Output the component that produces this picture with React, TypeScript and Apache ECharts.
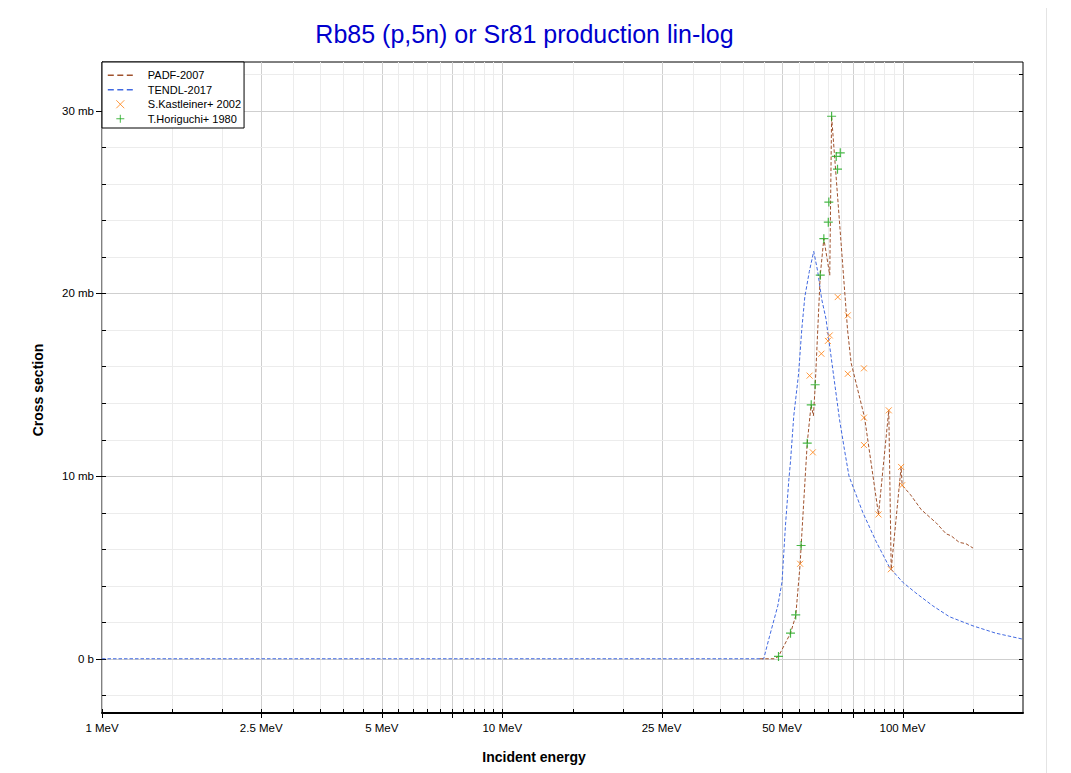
import React, { useEffect, useRef } from 'react';
import * as echarts from 'echarts';

// ---- Data (energy in MeV, cross section in mb) ----
const padfEnergy = [44, 47.9, 49.0, 52.5, 54.1, 55.5, 55.8, 57.8, 59.1, 59.9, 60.5, 62.3, 63.6, 65.8, 66.5, 72.9, 74.4, 80.4, 87.1, 92.4, 93.7, 99.2, 99.8, 104.7, 111.4, 121.5, 128.5, 132.3, 138.6, 144, 150];
const padfXs = [0, 0, 0.13, 1.4, 2.35, 5.2, 6.15, 11.8, 13.9, 13.3, 14.9, 21.0, 23.0, 21.0, 29.7, 18.0, 16.2, 13.2, 7.9, 13.6, 4.9, 10.5, 9.5, 8.98, 8.16, 7.43, 6.84, 6.73, 6.37, 6.3, 6.06];

const tendlEnergy = [1, 45, 46.5, 48.8, 50, 51, 52, 52.5, 53.5, 55, 56, 57, 58.5, 60, 61.4, 62.8, 64.4, 67, 69.6, 71.6, 73.5, 79.6, 86, 92.8, 100, 108, 119, 131, 150, 171, 200];
const tendlXs = [0, 0, 1.2, 2.9, 4.2, 7.3, 9.8, 10.8, 13.3, 15.6, 18.0, 19.8, 21.2, 22.3, 21.2, 19.7, 18.6, 15.8, 13.1, 11.45, 10.0, 8.0, 6.4, 5.0, 4.2, 3.6, 2.9, 2.3, 1.8, 1.4, 1.07];

const kastEnergy = [55.5, 58.6, 59.7, 62.7, 65.1, 65.8, 68.9, 73.0, 73.0, 80.1, 80.1, 80.1, 87.1, 92.4, 93.5, 99.2, 99.8];
const kastXs = [5.2, 15.5, 11.3, 16.7, 17.4, 17.7, 19.8, 18.8, 15.6, 15.9, 13.2, 11.7, 7.9, 13.6, 4.9, 10.5, 9.5];

const horiEnergy = [49.0, 52.5, 54.1, 55.8, 57.8, 59.15, 60.5, 62.3, 63.6, 65.25, 65.45, 66.5, 68.3, 68.8, 69.9];
const horiXs = [0.13, 1.4, 2.4, 6.2, 11.8, 13.9, 15.0, 21.0, 23.0, 23.9, 25.0, 29.7, 27.5, 26.8, 27.7];

// ---- Axis ticks ----
const xMajorTicks = [1, 2.5, 5, 7.5, 10, 25, 50, 75, 100];
const xMinorTicks = [1.5, 2, 3, 3.5, 4, 4.5, 5.5, 6, 6.5, 7, 8, 8.5, 9, 9.5, 15, 20, 30, 35, 40, 45, 55, 60, 65, 70, 80, 85, 90, 95, 150];
const xLabelValues = [1, 2.5, 5, 10, 25, 50, 100];
const xLabelTexts = ['1 MeV', '2.5 MeV', '5 MeV', '10 MeV', '25 MeV', '50 MeV', '100 MeV'];
const yMajorTicks = [0, 10, 20, 30];
const yMinorTicks = [-2, 2, 4, 6, 8, 12, 14, 16, 18, 22, 24, 26, 28, 32];
const yLabelTexts = ['0 b', '10 mb', '20 mb', '30 mb'];

const X_MIN = 1;
const X_MAX = 200;
const Y_MIN = -2.97;
const Y_MAX = 32.67;

const FONT = '"Liberation Sans", Arial, sans-serif';
const PADF_COLOR = '#a0522d';
const TENDL_COLOR = '#4169e1';
const KAST_COLOR = '#ff7f0e';
const HORI_COLOR = '#1ca81c';

const zip = (a: number[], b: number[]) => a.map((v, i) => [v, b[i]]);

function xGridSeries(values: number[], major: boolean) {
  return {
    type: 'custom',
    silent: true,
    clip: false,
    z: 1,
    data: values.map((v) => [v, 0]),
    encode: { x: 0, y: 1 },
    renderItem: (params: any, api: any) => {
      const cs = params.coordSys;
      const p = api.coord([api.value(0), 0]);
      const x = Math.round(p[0]) + 0.5;
      const top = cs.y;
      const bottom = cs.y + cs.height;
      return {
        type: 'group',
        children: [
          {
            type: 'line',
            shape: { x1: x, y1: top, x2: x, y2: bottom },
            style: { stroke: major ? '#cfcfcf' : '#ececec', lineWidth: 1 },
          },
          {
            type: 'line',
            shape: { x1: x, y1: bottom - 4, x2: x, y2: major ? bottom + 5 : bottom },
            style: { stroke: '#000', lineWidth: 1 },
          },
        ],
      };
    },
  };
}

function yGridSeries(values: number[], major: boolean) {
  return {
    type: 'custom',
    silent: true,
    clip: false,
    z: 1,
    data: values.map((v) => [X_MIN, v]),
    encode: { x: 0, y: 1 },
    renderItem: (params: any, api: any) => {
      const cs = params.coordSys;
      const p = api.coord([X_MIN, api.value(1)]);
      const y = Math.round(p[1]) + 0.5;
      const left = cs.x;
      const right = cs.x + cs.width;
      return {
        type: 'group',
        children: [
          {
            type: 'line',
            shape: { x1: left, y1: y, x2: right, y2: y },
            style: { stroke: major ? '#cfcfcf' : '#ececec', lineWidth: 1 },
          },
          {
            type: 'line',
            shape: { x1: major ? left - 6 : left, y1: y, x2: left + 4, y2: y },
            style: { stroke: '#000', lineWidth: 1 },
          },
          {
            type: 'line',
            shape: { x1: right - 4, y1: y, x2: right, y2: y },
            style: { stroke: '#000', lineWidth: 1 },
          },
        ],
      };
    },
  };
}

const xLabelSeries = {
  type: 'custom',
  silent: true,
  clip: false,
  z: 3,
  data: xLabelValues.map((v) => [v, 0]),
  encode: { x: 0, y: 1 },
  renderItem: (params: any, api: any) => {
    const cs = params.coordSys;
    const p = api.coord([api.value(0), 0]);
    return {
      type: 'text',
      style: {
        text: xLabelTexts[params.dataIndex],
        x: p[0],
        y: cs.y + cs.height + 15,
        fill: '#000',
        fontSize: 11.5,
        fontFamily: FONT,
        align: 'center',
        verticalAlign: 'middle',
      },
    };
  },
};

const yLabelSeries = {
  type: 'custom',
  silent: true,
  clip: false,
  z: 3,
  data: yMajorTicks.map((v) => [X_MIN, v]),
  encode: { x: 0, y: 1 },
  renderItem: (params: any, api: any) => {
    const cs = params.coordSys;
    const p = api.coord([X_MIN, api.value(1)]);
    return {
      type: 'text',
      style: {
        text: yLabelTexts[params.dataIndex],
        x: cs.x - 8,
        y: p[1],
        fill: '#000',
        fontSize: 11.5,
        fontFamily: FONT,
        align: 'right',
        verticalAlign: 'middle',
      },
    };
  },
};

const hiddenSymbol = { color: 'transparent', borderColor: 'transparent', borderWidth: 0, opacity: 0 };

export default function App() {
  const ref = useRef<HTMLDivElement>(null);

  useEffect(() => {
    if (!ref.current) return;
    const chart = echarts.init(ref.current, undefined, { renderer: 'svg' });
    const option: any = {
      animation: false,
      backgroundColor: '#fff',
      tooltip: { show: false },
      grid: {
        left: 102,
        top: 62,
        width: 921,
        height: 651,
        show: true,
        borderColor: '#000',
        borderWidth: 1,
        backgroundColor: 'transparent',
        containLabel: false,
      },
      xAxis: {
        type: 'log',
        logBase: 10,
        min: X_MIN,
        max: X_MAX,
        axisLine: { show: true, onZero: false, lineStyle: { color: '#000', width: 2 } },
        axisTick: { show: false },
        axisLabel: { show: false },
        splitLine: { show: false },
        minorTick: { show: false },
        minorSplitLine: { show: false },
      },
      yAxis: {
        type: 'value',
        min: Y_MIN,
        max: Y_MAX,
        axisLine: { show: true, lineStyle: { color: '#000', width: 1 } },
        axisTick: { show: false },
        axisLabel: { show: false },
        splitLine: { show: false },
      },
      legend: {
        left: 102,
        top: 62,
        orient: 'vertical',
        data: [
          { name: 'PADF-2007', itemStyle: hiddenSymbol },
          { name: 'TENDL-2017', itemStyle: hiddenSymbol },
          { name: 'S.Kastleiner+ 2002' },
          { name: 'T.Horiguchi+ 1980' },
        ],
        backgroundColor: '#fff',
        borderColor: '#000',
        borderWidth: 1,
        borderRadius: 0,
        padding: [6, 3, 2, 5],
        itemGap: 0,
        itemWidth: 25,
        itemHeight: 8,
        selectedMode: false,
        itemStyle: { borderWidth: 1 },
        lineStyle: { width: 1.6, type: [6, 3.5] },
        textStyle: {
          fontSize: 11,
          fontFamily: FONT,
          color: '#000',
          lineHeight: 14.5,
          padding: [0, 0, 0, 10],
        },
      },
      graphic: [
        {
          type: 'rect',
          z: -10,
          silent: true,
          shape: { x: -2, y: 4.5, width: 1048.5, height: 790 },
          style: { fill: 'none', stroke: '#e4e4e4', lineWidth: 1 },
        },
        {
          type: 'text',
          x: 524.5,
          y: 34,
          silent: true,
          style: {
            text: 'Rb85 (p,5n) or Sr81 production lin-log',
            fill: '#0000cd',
            fontSize: 25,
            fontFamily: FONT,
            align: 'center',
            verticalAlign: 'middle',
          },
        },
        {
          type: 'text',
          x: 534,
          y: 757,
          silent: true,
          style: {
            text: 'Incident energy',
            fill: '#000',
            fontSize: 14,
            fontWeight: 'bold',
            fontFamily: FONT,
            align: 'center',
            verticalAlign: 'middle',
          },
        },
        {
          type: 'text',
          x: 38,
          y: 390,
          rotation: Math.PI / 2,
          silent: true,
          style: {
            text: 'Cross section',
            fill: '#000',
            fontSize: 14,
            fontWeight: 'bold',
            fontFamily: FONT,
            align: 'center',
            verticalAlign: 'middle',
          },
        },
      ],
      series: [
        xGridSeries(xMinorTicks, false),
        xGridSeries(xMajorTicks, true),
        yGridSeries(yMinorTicks, false),
        yGridSeries(yMajorTicks, true),
        xLabelSeries,
        yLabelSeries,
        {
          name: 'TENDL-2017',
          type: 'line',
          data: zip(tendlEnergy, tendlXs),
          symbol: 'none',
          showSymbol: false,
          z: 4,
          lineStyle: { color: TENDL_COLOR, width: 1, type: [3.5, 2] },
          itemStyle: { color: TENDL_COLOR },
        },
        {
          name: 'PADF-2007',
          type: 'line',
          data: zip(padfEnergy, padfXs),
          symbol: 'none',
          showSymbol: false,
          z: 5,
          lineStyle: { color: PADF_COLOR, width: 1, type: [3.5, 2] },
          itemStyle: { color: PADF_COLOR },
        },
        {
          name: 'S.Kastleiner+ 2002',
          type: 'scatter',
          data: zip(kastEnergy, kastXs),
          symbol: 'path://M0,0L10,10M10,0L0,10',
          symbolSize: 6,
          z: 6,
          itemStyle: { color: 'transparent', borderColor: KAST_COLOR, borderWidth: 1 },
        },
        {
          name: 'T.Horiguchi+ 1980',
          type: 'scatter',
          data: zip(horiEnergy, horiXs),
          symbol: 'path://M5,0L5,10M0,5L10,5',
          symbolSize: 9,
          z: 7,
          itemStyle: { color: 'transparent', borderColor: HORI_COLOR, borderWidth: 1.2 },
        },
      ],
    };
    chart.setOption(option);
    return () => chart.dispose();
  }, []);

  return (
    <div
      ref={ref}
      style={{ position: 'relative', left: -8, top: -8, width: 1071, height: 773, background: '#fff' }}
    />
  );
}
